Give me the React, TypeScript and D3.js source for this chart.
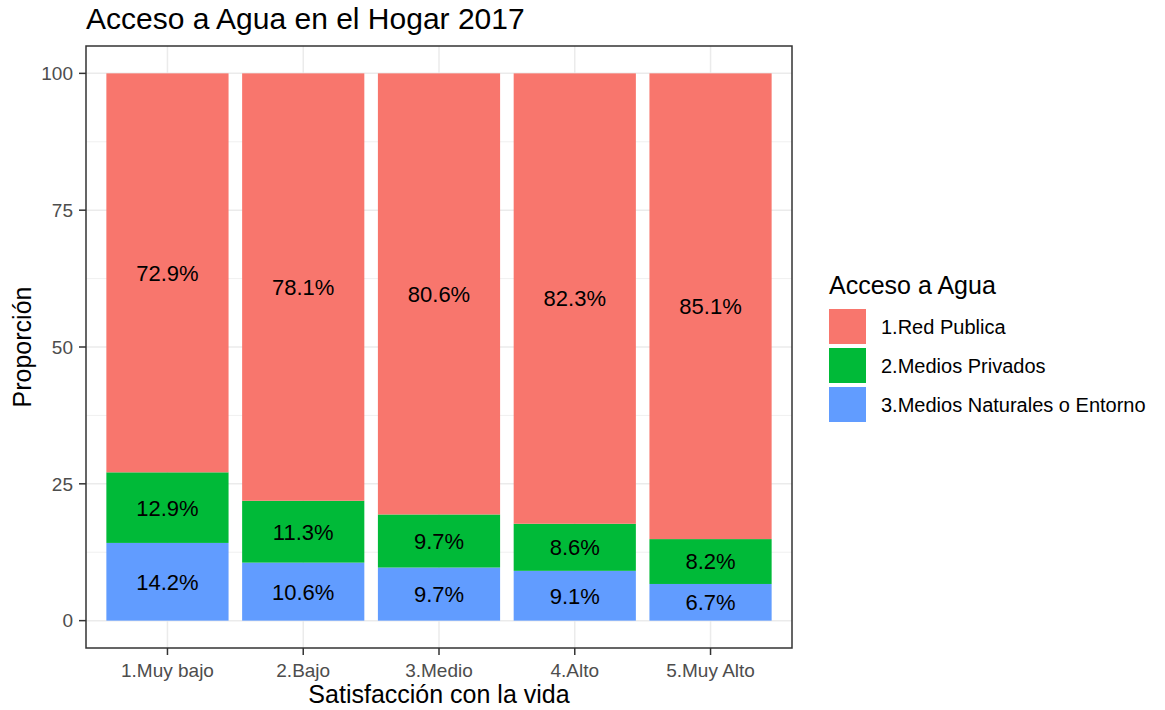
import React from "react";
import * as d3 from "d3";

const categories = ["1.Muy bajo", "2.Bajo", "3.Medio", "4.Alto", "5.Muy Alto"];
const seriesNames = ["1.Red Publica", "2.Medios Privados", "3.Medios Naturales o Entorno"];
const redPublica = [72.9, 78.1, 80.6, 82.3, 85.1];
const mediosPrivados = [12.9, 11.3, 9.7, 8.6, 8.2];
const mediosNaturales = [14.2, 10.6, 9.7, 9.1, 6.7];
const yTicks = [0, 25, 50, 75, 100];
const yMinor = [12.5, 37.5, 62.5, 87.5];
const colors = ["#F8766D", "#00BA38", "#619CFF"];

const W = 1165, H = 710;
const panel = { left: 86, right: 792, top: 46, bottom: 648 };
const FONT = "'Liberation Sans', Arial, sans-serif";

export default function App() {
  const x = d3.scaleBand<string>()
    .domain(categories)
    .range([panel.left, panel.right])
    .paddingInner(0.1)
    .paddingOuter(0.15);
  const xc = (c: string) => (x(c) as number) + x.bandwidth() / 2;
  const y = d3.scaleLinear().domain([-5, 105]).range([panel.bottom, panel.top]);

  const rows = categories.map((c, i) => ({
    cat: c,
    "3.Medios Naturales o Entorno": mediosNaturales[i],
    "2.Medios Privados": mediosPrivados[i],
    "1.Red Publica": redPublica[i],
  }));
  const stackOrder = [seriesNames[2], seriesNames[1], seriesNames[0]];
  const stacked = d3.stack<any>().keys(stackOrder)(rows);
  const colorOf = (k: string) => colors[seriesNames.indexOf(k)];

  return (
    <svg width={W} height={H} style={{ position: "absolute", left: 0, top: 0, fontFamily: FONT }}>
      <rect x={0} y={0} width={W} height={H} fill="#fff" />
      {/* grid */}
      {yMinor.map(v => (
        <line key={"m" + v} x1={panel.left} x2={panel.right} y1={y(v)} y2={y(v)} stroke="#f0f0f0" strokeWidth={1} />
      ))}
      {yTicks.map(v => (
        <line key={"g" + v} x1={panel.left} x2={panel.right} y1={y(v)} y2={y(v)} stroke="#ebebeb" strokeWidth={1.5} />
      ))}
      {categories.map(c => (
        <line key={"v" + c} x1={xc(c)} x2={xc(c)} y1={panel.top} y2={panel.bottom} stroke="#ebebeb" strokeWidth={1.5} />
      ))}
      {/* bars */}
      {stacked.map(layer => (
        <g key={layer.key}>
          {layer.map((d, i) => (
            <rect key={i} x={x(categories[i])} width={x.bandwidth()} y={y(d[1])} height={y(d[0]) - y(d[1])} fill={colorOf(layer.key)} />
          ))}
        </g>
      ))}
      {/* labels */}
      {stacked.map(layer => (
        <g key={"l" + layer.key}>
          {layer.map((d, i) => (
            <text key={i} x={xc(categories[i])} y={y((d[0] + d[1]) / 2)} dy="0.36em" textAnchor="middle" fontSize={22} fill="#000">
              {(d[1] - d[0]).toFixed(1) + "%"}
            </text>
          ))}
        </g>
      ))}
      {/* panel border */}
      <rect x={panel.left} y={panel.top} width={panel.right - panel.left} height={panel.bottom - panel.top} fill="none" stroke="#333" strokeWidth={1.5} />
      {/* y axis */}
      {yTicks.map(v => (
        <g key={"yt" + v}>
          <line x1={panel.left - 7} x2={panel.left} y1={y(v)} y2={y(v)} stroke="#333" strokeWidth={1.5} />
          <text x={73} y={y(v)} dy="0.36em" textAnchor="end" fontSize={19} fill="#4d4d4d">{v}</text>
        </g>
      ))}
      {/* x axis */}
      {categories.map(c => (
        <g key={"xt" + c}>
          <line x1={xc(c)} x2={xc(c)} y1={panel.bottom} y2={panel.bottom + 7} stroke="#333" strokeWidth={1.5} />
          <text x={xc(c)} y={677} textAnchor="middle" fontSize={19} fill="#4d4d4d">{c}</text>
        </g>
      ))}
      <text x={(panel.left + panel.right) / 2} y={703} textAnchor="middle" fontSize={25} fill="#000">Satisfacción con la vida</text>
      <text transform={`translate(31, ${(panel.top + panel.bottom) / 2}) rotate(-90)`} textAnchor="middle" fontSize={25} fill="#000">Proporción</text>
      {/* title */}
      <text x={86} y={29} fontSize={30} fill="#000">Acceso a Agua en el Hogar 2017</text>
      {/* legend */}
      <text x={829} y={294} fontSize={25} fill="#000">Acceso a Agua</text>
      {seriesNames.map((s, i) => (
        <g key={"lg" + s}>
          <rect x={829} y={309 + i * 39} width={37} height={35} fill={colors[i]} />
          <text x={881} y={309 + i * 39 + 17.5} dy="0.36em" fontSize={20} fill="#000">{s}</text>
        </g>
      ))}
    </svg>
  );
}
